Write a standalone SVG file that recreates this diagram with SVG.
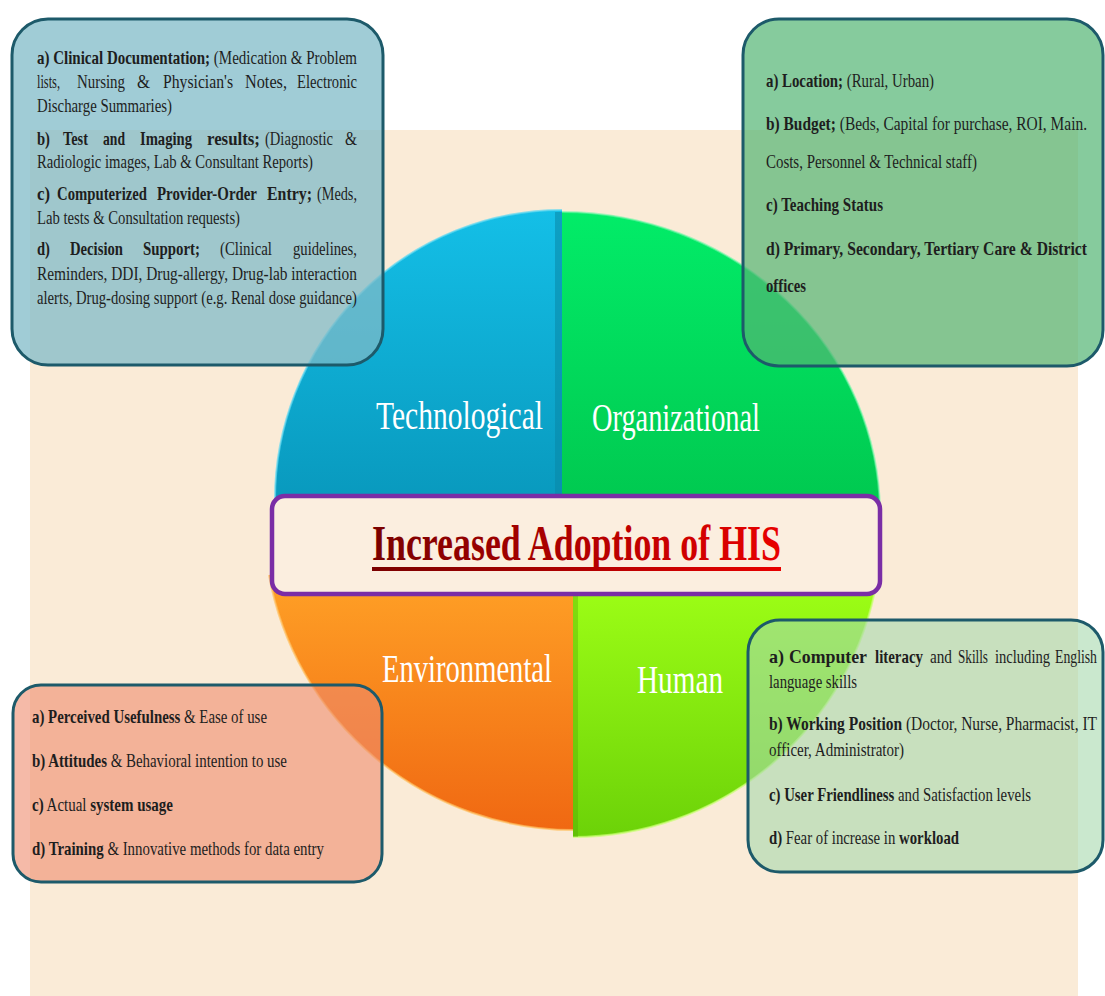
<svg xmlns="http://www.w3.org/2000/svg" width="1105" height="996" viewBox="0 0 1105 996">
<defs>
<linearGradient id="gTech" x1="0" y1="0" x2="0" y2="1"><stop offset="0" stop-color="#14BFE7"/><stop offset="1" stop-color="#0794B8"/></linearGradient>
<linearGradient id="gOrg" x1="0" y1="0" x2="0" y2="1"><stop offset="0" stop-color="#02EC68"/><stop offset="1" stop-color="#00C24B"/></linearGradient>
<linearGradient id="gEnv" x1="0" y1="0" x2="0" y2="1"><stop offset="0" stop-color="#FFA126"/><stop offset="1" stop-color="#F06812"/></linearGradient>
<linearGradient id="gHum" x1="0" y1="0" x2="0" y2="1"><stop offset="0" stop-color="#9EFF16"/><stop offset="1" stop-color="#6CD208"/></linearGradient>
<linearGradient id="gTitle" x1="0" y1="0" x2="1" y2="0"><stop offset="0" stop-color="#7A0000"/><stop offset="1" stop-color="#E80000"/></linearGradient>
<style>
.bx{stroke:#1D5A6A;stroke-width:3}
.t{font-family:"Liberation Serif","Times New Roman",serif;font-size:19.5px;fill:#1E1E1E}
.b{font-weight:bold}
.lbl{font-family:"Liberation Serif","Times New Roman",serif;font-size:39px;fill:#FFFFFF}
</style>
</defs>
<rect x="0" y="0" width="1105" height="996" fill="#FFFFFF"/>
<rect x="30" y="130" width="1048" height="866" fill="#FAEBD7"/>

<g id="quadrants">
<g id="q-technological">
<path d="M562,540 L562,210 A287 290 0 0 0 275,500 L275,540 Z" fill="url(#gTech)"/>
<path d="M562,210 A287 290 0 0 0 275,500" fill="none" stroke="#5ED8F2" stroke-width="2" opacity="0.7"/>
<rect x="555" y="212" width="7" height="328" fill="#0A86A6" opacity="0.55"/>
<text class="lbl" transform="scale(0.75 1)" x="501.33" y="429" textLength="222.67" lengthAdjust="spacingAndGlyphs">Technological</text>
</g>
<g id="q-organizational">
<path d="M562,560 L562,212 A318 303 0 0 1 880,515 L880,560 Z" fill="url(#gOrg)"/>
<path d="M562,212 A318 303 0 0 1 880,515" fill="none" stroke="#6FF7A8" stroke-width="2" opacity="0.6"/>
<text class="lbl" transform="scale(0.75 1)" x="789.33" y="431" textLength="224" lengthAdjust="spacingAndGlyphs">Organizational</text>
</g>
<g id="q-environmental">
<path d="M575,575 L269,575 A310 310 0 0 0 575,830 Z" fill="url(#gEnv)"/>
<path d="M269,575 A310 310 0 0 0 575,830" fill="none" stroke="#FFC060" stroke-width="2" opacity="0.7"/>
<text class="lbl" transform="scale(0.75 1)" x="509.33" y="682" textLength="226.67" lengthAdjust="spacingAndGlyphs">Environmental</text>
</g>
<g id="q-human">
<path d="M573,580 L877,580 A309 309 0 0 1 573,837 Z" fill="url(#gHum)"/>
<path d="M877,580 A309 309 0 0 1 573,837" fill="none" stroke="#C8FF70" stroke-width="2" opacity="0.7"/>
<rect x="573" y="594" width="5" height="243" fill="#4FA006" opacity="0.35"/>
<text class="lbl" transform="scale(0.75 1)" x="849.33" y="693" textLength="114.67" lengthAdjust="spacingAndGlyphs">Human</text>
</g>
</g>

<g id="title">
<rect x="272" y="496" width="608" height="98" rx="13" fill="#FBEEDF" stroke="#7A2DA6" stroke-width="4.5"/>
<text transform="scale(0.72 1)" x="516.67" y="560" font-family="'Liberation Serif','Times New Roman',serif" font-size="50" font-weight="bold" fill="url(#gTitle)" textLength="568" lengthAdjust="spacingAndGlyphs">Increased Adoption of HIS</text>
<rect x="372" y="567" width="409" height="4" fill="url(#gTitle)"/>
</g>

<g id="box-technological">
<rect class="bx" x="12" y="19" width="371" height="346" rx="36" fill="rgba(127,186,200,0.74)"/>
<g transform="scale(0.75 1)">
<text class="t" x="49.33" y="64" textLength="426.67" lengthAdjust="spacingAndGlyphs"><tspan class="b">a) Clinical Documentation;</tspan> (Medication &amp; Problem</text>
<text class="t" x="49.33" y="88" textLength="30.67" lengthAdjust="spacingAndGlyphs">lists,</text>
<text class="t" x="102.67" y="88" textLength="64" lengthAdjust="spacingAndGlyphs">Nursing</text>
<text class="t" x="182.67" y="88" textLength="17.33" lengthAdjust="spacingAndGlyphs">&amp;</text>
<text class="t" x="217.33" y="88" textLength="93.33" lengthAdjust="spacingAndGlyphs">Physician's</text>
<text class="t" x="326.67" y="88" textLength="56" lengthAdjust="spacingAndGlyphs">Notes,</text>
<text class="t" x="396" y="88" textLength="80" lengthAdjust="spacingAndGlyphs">Electronic</text>
<text class="t" x="49.33" y="112" textLength="180" lengthAdjust="spacingAndGlyphs">Discharge Summaries)</text>
<text class="t b" x="49.33" y="145" textLength="17.33" lengthAdjust="spacingAndGlyphs">b)</text>
<text class="t b" x="84" y="145" textLength="33.33" lengthAdjust="spacingAndGlyphs">Test</text>
<text class="t b" x="137.33" y="145" textLength="29.33" lengthAdjust="spacingAndGlyphs">and</text>
<text class="t b" x="186.67" y="145" textLength="69.33" lengthAdjust="spacingAndGlyphs">Imaging</text>
<text class="t b" x="276" y="145" textLength="70.67" lengthAdjust="spacingAndGlyphs">results;</text>
<text class="t" x="353.33" y="145" textLength="90.67" lengthAdjust="spacingAndGlyphs">(Diagnostic</text>
<text class="t" x="460" y="145" textLength="16" lengthAdjust="spacingAndGlyphs">&amp;</text>
<text class="t" x="49.33" y="168" textLength="368" lengthAdjust="spacingAndGlyphs">Radiologic images, Lab &amp; Consultant Reports)</text>
<text class="t b" x="49.33" y="200" textLength="17.33" lengthAdjust="spacingAndGlyphs">c)</text>
<text class="t b" x="76" y="200" textLength="120" lengthAdjust="spacingAndGlyphs">Computerized</text>
<text class="t b" x="209.33" y="200" textLength="133.33" lengthAdjust="spacingAndGlyphs">Provider-Order</text>
<text class="t b" x="356" y="200" textLength="60" lengthAdjust="spacingAndGlyphs">Entry;</text>
<text class="t" x="422.67" y="200" textLength="53.33" lengthAdjust="spacingAndGlyphs">(Meds,</text>
<text class="t" x="49.33" y="224" textLength="270.67" lengthAdjust="spacingAndGlyphs">Lab tests &amp; Consultation requests)</text>
<text class="t b" x="49.33" y="255" textLength="17.33" lengthAdjust="spacingAndGlyphs">d)</text>
<text class="t b" x="93.33" y="255" textLength="70.67" lengthAdjust="spacingAndGlyphs">Decision</text>
<text class="t b" x="190.67" y="255" textLength="76" lengthAdjust="spacingAndGlyphs">Support;</text>
<text class="t" x="293.33" y="255" textLength="69.33" lengthAdjust="spacingAndGlyphs">(Clinical</text>
<text class="t" x="390.67" y="255" textLength="85.33" lengthAdjust="spacingAndGlyphs">guidelines,</text>
<text class="t" x="49.33" y="280" textLength="426.67" lengthAdjust="spacingAndGlyphs">Reminders, DDI, Drug-allergy, Drug-lab interaction</text>
<text class="t" x="49.33" y="304" textLength="426.67" lengthAdjust="spacingAndGlyphs">alerts, Drug-dosing support (e.g. Renal dose guidance)</text>
</g>
</g>

<g id="box-organizational">
<rect class="bx" x="743" y="19" width="360" height="347" rx="36" fill="rgba(82,181,115,0.7)"/>
<g transform="scale(0.75 1)">
<text class="t" x="1021.33" y="87" textLength="224" lengthAdjust="spacingAndGlyphs"><tspan class="b">a) Location;</tspan> (Rural, Urban)</text>
<text class="t" x="1021.33" y="130" textLength="428" lengthAdjust="spacingAndGlyphs"><tspan class="b">b) Budget;</tspan> (Beds, Capital for purchase, ROI, Main.</text>
<text class="t" x="1021.33" y="168" textLength="281.33" lengthAdjust="spacingAndGlyphs">Costs, Personnel &amp; Technical staff)</text>
<text class="t b" x="1021.33" y="211" textLength="156" lengthAdjust="spacingAndGlyphs">c) Teaching Status</text>
<text class="t b" x="1021.33" y="255" textLength="428" lengthAdjust="spacingAndGlyphs">d) Primary, Secondary, Tertiary Care &amp; District</text>
<text class="t b" x="1021.33" y="292" textLength="53.33" lengthAdjust="spacingAndGlyphs">offices</text>
</g>
</g>

<g id="box-environmental">
<rect class="bx" x="13" y="685" width="369" height="197" rx="28" fill="rgba(238,140,110,0.6)"/>
<g transform="scale(0.75 1)">
<text class="t" x="42.67" y="723" textLength="313.33" lengthAdjust="spacingAndGlyphs"><tspan class="b">a) Perceived Usefulness</tspan> &amp; Ease of use</text>
<text class="t" x="42.67" y="767" textLength="340" lengthAdjust="spacingAndGlyphs"><tspan class="b">b) Attitudes</tspan> &amp; Behavioral intention to use</text>
<text class="t" x="42.67" y="811" textLength="188" lengthAdjust="spacingAndGlyphs"><tspan class="b">c)</tspan> Actual <tspan class="b">system usage</tspan></text>
<text class="t" x="42.67" y="855" textLength="389.33" lengthAdjust="spacingAndGlyphs"><tspan class="b">d) Training</tspan> &amp; Innovative methods for data entry</text>
</g>
</g>

<g id="box-human">
<rect class="bx" x="748" y="620" width="355" height="252" rx="32" fill="rgba(167,217,173,0.6)"/>
<g transform="scale(0.75 1)">
<text class="t b" x="1025.33" y="663" textLength="20" lengthAdjust="spacingAndGlyphs">a)</text>
<text class="t b" x="1052" y="663" textLength="104" lengthAdjust="spacingAndGlyphs">Computer</text>
<text class="t b" x="1166.67" y="663" textLength="64" lengthAdjust="spacingAndGlyphs">literacy</text>
<text class="t" x="1240" y="663" textLength="29.33" lengthAdjust="spacingAndGlyphs">and</text>
<text class="t" x="1277.33" y="663" textLength="40" lengthAdjust="spacingAndGlyphs">Skills</text>
<text class="t" x="1326.67" y="663" textLength="73.33" lengthAdjust="spacingAndGlyphs">including</text>
<text class="t" x="1406.67" y="663" textLength="56" lengthAdjust="spacingAndGlyphs">English</text>
<text class="t" x="1025.33" y="688" textLength="117.33" lengthAdjust="spacingAndGlyphs">language skills</text>
<text class="t" x="1025.33" y="730" textLength="437.33" lengthAdjust="spacingAndGlyphs"><tspan class="b">b) Working Position</tspan> (Doctor, Nurse, Pharmacist, IT</text>
<text class="t" x="1025.33" y="756" textLength="180" lengthAdjust="spacingAndGlyphs">officer, Administrator)</text>
<text class="t" x="1025.33" y="801" textLength="349.33" lengthAdjust="spacingAndGlyphs"><tspan class="b">c) User Friendliness</tspan> and Satisfaction levels</text>
<text class="t" x="1025.33" y="844" textLength="253.33" lengthAdjust="spacingAndGlyphs"><tspan class="b">d)</tspan> Fear of increase in <tspan class="b">workload</tspan></text>
</g>
</g>

<g id="connectors"/>
</svg>
